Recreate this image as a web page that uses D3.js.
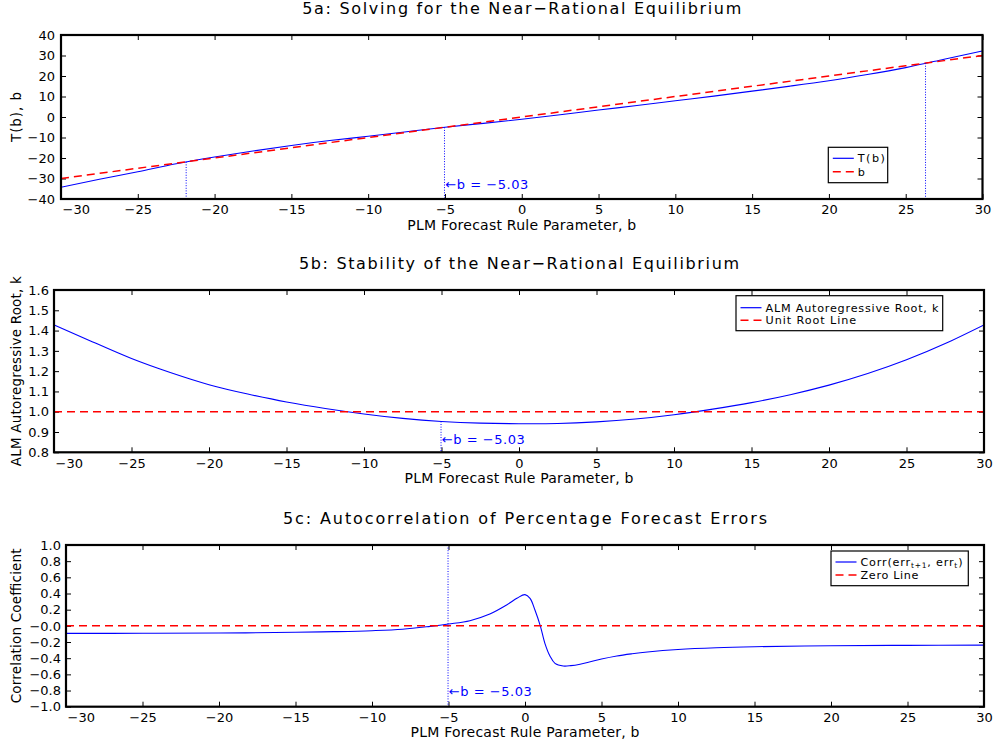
<!DOCTYPE html>
<html>
<head>
<meta charset="utf-8">
<script src="https://cdn.jsdelivr.net/npm/d3@7"></script>
<style>
  body { margin: 0; background: #fff; }
  svg text { font-family: "DejaVu Sans", sans-serif; }
</style>
</head>
<body>
<svg id="chart" width="995" height="748"></svg>
<script>
// ---- Data -------------------------------------------------------------
// PLM forecast rule parameter grid (panels 5a and 5b)
const bGrid = [-30, -27.5, -25, -22.5, -20, -17.5, -15, -12.5, -10, -7.5, -5, -2.5,
               0, 2.5, 5, 7.5, 10, 12.5, 15, 17.5, 20, 22.5, 25, 27.5, 30];
// T(b): ALM-implied forecast parameter
const tOfB = [-34.3, -30.4, -26.7, -22.8, -19.5, -16.6, -13.9, -11.5, -9.4, -7.2, -5.0, -3.1,
              -1.1, 1.1, 3.4, 5.6, 7.9, 10.2, 12.6, 15.1, 17.7, 20.7, 24.1, 28.2, 32.2];
// k: ALM autoregressive root
const kRoot = [1.428, 1.344, 1.262, 1.193, 1.133, 1.087, 1.048, 1.016, 0.989, 0.967, 0.952, 0.944,
               0.941, 0.942, 0.950, 0.964, 0.985, 1.013, 1.045, 1.084, 1.131, 1.188, 1.256, 1.336, 1.428];
// Autocorrelation of percentage forecast errors (panel 5c)
const bCorr = [-30, -25, -20, -15, -12.5, -10, -8, -6.2, -5, -3.6, -2.3, -1.2, -0.5, 0, 0.33, 0.65,
               1.0, 1.3, 1.63, 1.96, 2.5, 3.0, 3.6, 4.2, 5, 6, 7, 8, 10, 12.5, 15, 20, 25, 30];
const corrErr = [-0.093, -0.092, -0.089, -0.080, -0.072, -0.060, -0.042, -0.006, 0.023, 0.064, 0.146,
                 0.258, 0.345, 0.386, 0.340, 0.196, 0.0, -0.216, -0.373, -0.464, -0.497, -0.492,
                 -0.474, -0.448, -0.410, -0.372, -0.345, -0.323, -0.292, -0.270, -0.258, -0.246,
                 -0.241, -0.238];
// Fixed points of T(b) and the near-rational equilibrium
const fixedPoints = [-21.85, -5.03, 26.29];
const bStar = -5.03;
const unitRoot = 1.0;
const zeroLevel = 0.0;

// Tick values
const xTicks = [-30, -25, -20, -15, -10, -5, 0, 5, 10, 15, 20, 25, 30];
const yTicksA = [-40, -30, -20, -10, 0, 10, 20, 30, 40];
const yTicksB = [0.8, 0.9, 1.0, 1.1, 1.2, 1.3, 1.4, 1.5, 1.6];
const yTicksC = [-1.0, -0.8, -0.6, -0.4, -0.2, 0.0, 0.2, 0.4, 0.6, 0.8, 1.0];

// Text
const titles = ["5a: Solving for the Near\u2212Rational Equilibrium",
                "5b: Stability of the Near\u2212Rational Equilibrium",
                "5c: Autocorrelation of Percentage Forecast Errors"];
const xTitle = "PLM Forecast Rule Parameter, b";
const yTitles = ["T(b), b", "ALM Autoregressive Root, k", "Correlation Coefficient"];
const bStarLabel = "\u2190b = \u22125.03";

// ---- Drawing ----------------------------------------------------------
const BLUE = "#0000ff", RED = "#ff0000";
const svg = d3.select("#chart");

const panels = [
  { id: "a", left: 61, right: 982.5, top: 35, bottom: 199, yDomain: [-40, 40], yTicks: yTicksA,
    fmt: d3.format("d"), titleLen: 439, yTitleLen: 50, xPad: 5.5, yPad: 6 },
  { id: "b", left: 54, right: 984, top: 290, bottom: 452.3, yDomain: [0.8, 1.6], yTicks: yTicksB,
    fmt: d3.format(".1f"), titleLen: 440, yTitleLen: 190, xPad: 6.5, yPad: 5 },
  { id: "c", left: 66, right: 984, top: 545, bottom: 706.7, yDomain: [-1, 1], yTicks: yTicksC,
    fmt: v => (v === 0 ? "\u22120.0" : d3.format(".1f")(v)), titleLen: 484, yTitleLen: 155, xPad: 6, yPad: 5 }
];

function setupPanel(p, idx) {
  const x = d3.scaleLinear().domain([-30, 30]).range([p.left, p.right]);
  const y = d3.scaleLinear().domain(p.yDomain).range([p.bottom, p.top]);
  const g = svg.append("g").attr("class", "panel-" + p.id);

  svg.append("clipPath").attr("id", "clip-" + p.id)
    .append("rect").attr("x", p.left).attr("y", p.top)
    .attr("width", p.right - p.left).attr("height", p.bottom - p.top);

  const cx = (p.left + p.right) / 2, cy = (p.top + p.bottom) / 2;

  // title
  g.append("text").attr("x", cx).attr("y", p.top - 21)
    .attr("text-anchor", "middle").attr("font-size", 16)
    .attr("textLength", p.titleLen).attr("lengthAdjust", "spacing")
    .text(titles[idx]);

  // x title
  g.append("text").attr("x", cx).attr("y", p.bottom + 30.5)
    .attr("text-anchor", "middle").attr("font-size", 14)
    .attr("textLength", 229).attr("lengthAdjust", "spacing")
    .text(xTitle);

  // y title
  g.append("text").attr("transform", `translate(21,${cy}) rotate(-90)`)
    .attr("text-anchor", "middle").attr("font-size", 13.5)
    .attr("textLength", p.yTitleLen).attr("lengthAdjust", "spacing")
    .text(yTitles[idx]);

  // axes (ticks pointing inward on all four sides)
  const bottomAx = g.append("g").attr("transform", `translate(0,${p.bottom})`)
    .call(d3.axisBottom(x).tickValues(xTicks).tickSize(-5).tickPadding(p.xPad).tickFormat(d3.format("d")));
  const topAx = g.append("g").attr("transform", `translate(0,${p.top})`)
    .call(d3.axisTop(x).tickValues(xTicks).tickSize(-5).tickFormat(""));
  const leftAx = g.append("g").attr("transform", `translate(${p.left},0)`)
    .call(d3.axisLeft(y).tickValues(p.yTicks).tickSize(-5).tickPadding(p.yPad).tickFormat(p.fmt));
  const rightAx = g.append("g").attr("transform", `translate(${p.right},0)`)
    .call(d3.axisRight(y).tickValues(p.yTicks).tickSize(-5).tickFormat(""));
  [bottomAx, topAx, leftAx, rightAx].forEach(a => {
    a.select(".domain").remove();
    a.attr("font-family", '"DejaVu Sans", sans-serif').attr("font-size", 13);
    a.selectAll(".tick line").attr("stroke", "#000").attr("stroke-width", 1);
    a.selectAll(".tick text").attr("fill", "#000");
  });
  // the leftmost x label sits inside the frame edge
  bottomAx.selectAll(".tick text").filter(d => d === -30)
    .attr("text-anchor", "start").attr("x", 1);

  const plot = g.append("g").attr("clip-path", `url(#clip-${p.id})`);
  return { x, y, g, plot, p };
}

function frame(P) {
  const p = P.p;
  P.g.append("rect").attr("x", p.left).attr("y", p.top)
    .attr("width", p.right - p.left).attr("height", p.bottom - p.top)
    .attr("fill", "none").attr("stroke", "#000").attr("stroke-width", 2.2);
}

function dotted(P, b, yFrom, yTo) {
  P.plot.append("line").attr("x1", P.x(b)).attr("x2", P.x(b))
    .attr("y1", yFrom).attr("y2", yTo)
    .attr("stroke", BLUE).attr("stroke-width", 1).attr("stroke-dasharray", "1,1.6");
}

function annotate(P, b, baseline) {
  P.g.append("text").attr("x", P.x(b) + 0.8).attr("y", baseline)
    .attr("font-size", 13).attr("fill", BLUE)
    .attr("textLength", 83).attr("lengthAdjust", "spacing")
    .text(bStarLabel);
}

function legend(box, rows) {
  const g = svg.append("g");
  g.append("rect").attr("x", box.x).attr("y", box.y).attr("width", box.w).attr("height", box.h)
    .attr("fill", "#fff").attr("stroke", "#000").attr("stroke-width", 1.2);
  rows.forEach((r, i) => {
    const yy = box.y + box.row0 + i * box.dy;
    g.append("line").attr("x1", box.x + 4.5).attr("x2", box.x + 25.5)
      .attr("y1", yy).attr("y2", yy)
      .attr("stroke", r.color).attr("stroke-width", r.dash ? 1.6 : 1.2)
      .attr("stroke-dasharray", r.dash ? "8,5" : null);
    const t = g.append("text").attr("x", box.x + 29.5).attr("y", yy + 4)
      .attr("font-size", 11.2).attr("fill", "#000");
    if (r.parts) {
      r.parts.forEach(part => {
        const ts = t.append("tspan").text(part.s);
        if (part.sub) ts.attr("font-size", 7.5).attr("dy", part.dy);
        else if (part.dy) ts.attr("dy", part.dy);
      });
    } else {
      t.text(r.label);
    }
    if (r.len) t.attr("textLength", r.len).attr("lengthAdjust", "spacing");
  });
}

// ---- Panel 5a ---------------------------------------------------------
const A = setupPanel(panels[0], 0);
const smooth = d3.line().curve(d3.curveNatural);
A.plot.append("path")
  .attr("d", smooth(bGrid.map((b, i) => [A.x(b), A.y(tOfB[i])])))
  .attr("fill", "none").attr("stroke", BLUE).attr("stroke-width", 1.1);
A.plot.append("path")
  .attr("d", d3.line()(bGrid.map(b => [A.x(b), A.y(b)])))
  .attr("fill", "none").attr("stroke", RED).attr("stroke-width", 1.5).attr("stroke-dasharray", "8,5");
fixedPoints.forEach(b => dotted(A, b, A.y(b), panels[0].bottom));
annotate(A, bStar, 188.5);
frame(A);
legend({ x: 828.3, y: 147.3, w: 59.4, h: 35.4, row0: 11, dy: 13.4 },
  [{ label: "T(b)", color: BLUE, dash: false, len: 27 },
   { label: "b", color: RED, dash: true }]);

// ---- Panel 5b ---------------------------------------------------------
const B = setupPanel(panels[1], 1);
B.plot.append("path")
  .attr("d", smooth(bGrid.map((b, i) => [B.x(b), B.y(kRoot[i])])))
  .attr("fill", "none").attr("stroke", BLUE).attr("stroke-width", 1.1);
B.plot.append("line").attr("x1", B.x(-30)).attr("x2", B.x(30))
  .attr("y1", B.y(unitRoot)).attr("y2", B.y(unitRoot))
  .attr("stroke", RED).attr("stroke-width", 1.5).attr("stroke-dasharray", "8,5");
const kAt = d3.scaleLinear().domain(bGrid).range(kRoot);
dotted(B, bStar, B.y(kAt(bStar)), panels[1].bottom);
annotate(B, bStar, 443.5);
frame(B);
legend({ x: 736, y: 295.7, w: 206.7, h: 35, row0: 12, dy: 12.6 },
  [{ label: "ALM Autoregressive Root, k", color: BLUE, dash: false, len: 173 },
   { label: "Unit Root Line", color: RED, dash: true, len: 90.7 }]);

// ---- Panel 5c ---------------------------------------------------------
const C = setupPanel(panels[2], 2);
C.plot.append("path")
  .attr("d", d3.line().curve(d3.curveCatmullRom.alpha(0.5))(bCorr.map((b, i) => [C.x(b), C.y(corrErr[i])])))
  .attr("fill", "none").attr("stroke", BLUE).attr("stroke-width", 1.1);
C.plot.append("line").attr("x1", C.x(-30)).attr("x2", C.x(30))
  .attr("y1", C.y(zeroLevel)).attr("y2", C.y(zeroLevel))
  .attr("stroke", RED).attr("stroke-width", 1.5).attr("stroke-dasharray", "8,5");
dotted(C, bStar, panels[2].top, panels[2].bottom);
annotate(C, bStar, 696);
frame(C);
legend({ x: 831, y: 551, w: 137.3, h: 34.7, row0: 11, dy: 13 },
  [{ parts: [{ s: "Corr(err" }, { s: "t+1", sub: true, dy: 2 }, { s: ", err", dy: -2 },
             { s: "t", sub: true, dy: 2 }, { s: ")", dy: -2 }], color: BLUE, dash: false, len: 102 },
   { label: "Zero Line", color: RED, dash: true, len: 58 }]);
</script>
</body>
</html>
